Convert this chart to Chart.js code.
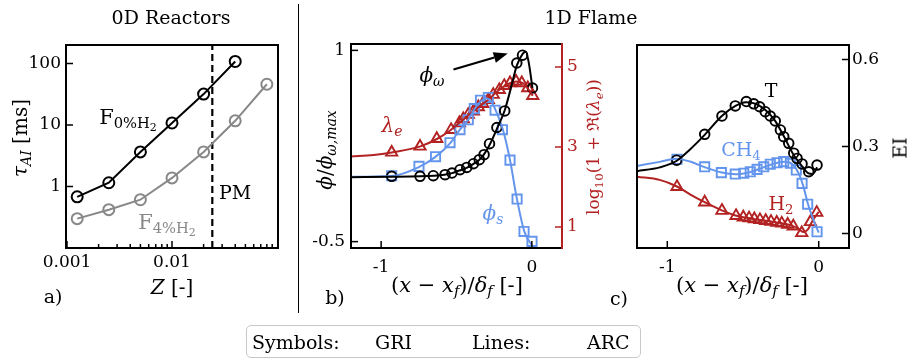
<!DOCTYPE html>
<html><head><meta charset="utf-8">
<script src="https://cdn.jsdelivr.net/npm/chart.js@4.4.1/dist/chart.umd.min.js"></script>
<style>
html,body{margin:0;padding:0;background:#fff;}
#wrap{position:relative;width:913px;height:360px;overflow:hidden;font-family:"DejaVu Serif",serif;}
canvas{position:absolute;left:0;top:0;}
.t{position:absolute;white-space:nowrap;line-height:1;font-size:19px;color:#000;transform:translate(-50%,-50%);}
.l{position:absolute;white-space:nowrap;line-height:1;font-size:19px;color:#000;transform:translate(0,-50%);}
.rot{transform:translate(-50%,-50%) rotate(-90deg);}
.s{font-size:0.7em;position:relative;top:0.3em;}
.s2{font-size:0.75em;position:relative;top:0.25em;}
.xl{font-size:21px;}
#sep{position:absolute;left:297.5px;top:4px;width:1.5px;height:309px;background:#000;}
#leg{position:absolute;left:246px;top:325px;width:393px;height:31px;border:1.5px solid #c8c8c8;border-radius:5px;}
</style></head><body>
<div id="wrap">
<canvas id="ca" width="913" height="360"></canvas>
<canvas id="cb" width="913" height="360"></canvas>
<canvas id="cc" width="913" height="360"></canvas>
<div id="sep"></div>

<div class="t" style="left:171px;top:17px;">0D Reactors</div>
<div class="t" style="left:591px;top:17px;">1D Flame</div>

<div class="t rot" style="left:20px;top:138px;font-size:20px;"><i>τ</i><span class="s"><i>AI</i></span> [ms]</div>
<div class="t" style="left:172px;top:287px;font-size:20px;"><i>Z</i> [-]</div>
<div class="t" style="left:53px;top:296px;">a)</div>
<div class="t" style="left:128px;top:117px;font-size:21px;">F<span class="s">0%H<span class="s2">2</span></span></div>
<div class="t" style="left:235px;top:192px;">PM</div>
<div class="t" style="left:167px;top:222px;color:#888;font-size:21px;">F<span class="s">4%H<span class="s2">2</span></span></div>

<div class="t rot" style="left:325px;top:150px;font-size:20px;"><i>ϕ</i>/<i>ϕ</i><span class="s"><i>ω,max</i></span></div>
<div class="t xl" style="left:457px;top:285px;">(<i>x</i> − <i>x</i><span class="s"><i>f</i></span>)/<i>δ</i><span class="s"><i>f</i></span> [-]</div>
<div class="t" style="left:335px;top:297px;">b)</div>
<div class="t rot" style="left:593px;top:147px;color:#B22222;font-size:17px;">log<span class="s">10</span>(1 + ℜ(<i>λ</i><span class="s"><i>e</i></span>))</div>
<div class="t" style="left:432px;top:75px;font-size:20px;"><i>ϕ</i><span class="s"><i>ω</i></span></div>
<div class="t" style="left:392px;top:125px;color:#B22222;font-size:20px;"><i>λ</i><span class="s"><i>e</i></span></div>
<div class="t" style="left:493px;top:213px;color:#6495ED;font-size:20px;"><i>ϕ</i><span class="s"><i>s</i></span></div>

<div class="t xl" style="left:742px;top:285px;">(<i>x</i> − <i>x</i><span class="s"><i>f</i></span>)/<i>δ</i><span class="s"><i>f</i></span> [-]</div>
<div class="t" style="left:619px;top:298px;">c)</div>
<div class="t rot" style="left:900px;top:148px;">EI</div>
<div class="t" style="left:771px;top:90px;">T</div>
<div class="t" style="left:741px;top:149px;color:#6495ED;">CH<span class="s">4</span></div>
<div class="t" style="left:781px;top:203px;color:#B22222;">H<span class="s">2</span></div>

<div id="leg"></div>
<div class="l" style="left:252px;top:342px;">Symbols:</div>
<div class="l" style="left:375px;top:342px;">GRI</div>
<div class="l" style="left:472px;top:342px;">Lines:</div>
<div class="l" style="left:587px;top:342px;">ARC</div>
</div>

<script>
// ---------- Panel a data ----------
const aZ0   = [0.00125, 0.0025, 0.005, 0.01, 0.02, 0.04];
const aTau0 = [0.68, 1.15, 3.65, 10.8, 31.8, 108];
const aZ4   = [0.00125, 0.0025, 0.005, 0.01, 0.02, 0.04, 0.08];
const aTau4 = [0.30, 0.42, 0.61, 1.38, 3.65, 11.7, 46];
const aZpm  = 0.0242;
const aXTicks = [0.001, 0.01];
const aXMinor = [0.002,0.003,0.004,0.005,0.006,0.007,0.008,0.009,0.02,0.03,0.04,0.05,0.06,0.07,0.08,0.09];
const aYTicks = [1, 10, 100];

// ---------- Panel b data (GRI symbols) ----------
const bWx = [-0.930,-0.742,-0.654,-0.576,-0.530,-0.477,-0.432,-0.388,-0.349,-0.317,-0.281,-0.232,-0.180,-0.100,-0.062,0.004];
const bWy = [0.012,0.012,0.017,0.025,0.038,0.064,0.082,0.111,0.143,0.182,0.268,0.395,0.525,0.901,0.962,0.705];
const bSx = [-0.930,-0.749,-0.639,-0.543,-0.477,-0.422,-0.382,-0.341,-0.289,-0.244,-0.195,-0.145,-0.098,-0.052,0.001];
const bSy = [0.017,0.090,0.166,0.276,0.378,0.456,0.543,0.609,0.631,0.531,0.378,0.139,-0.166,-0.420,-0.498];
const bLx = [-0.930,-0.742,-0.631,-0.536,-0.481,-0.455,-0.422,-0.388,-0.355,-0.326,-0.289,-0.256,-0.216,-0.183,-0.145,-0.105,-0.067,-0.027,0.006];
const bLy = [2.865,3.015,3.208,3.43,3.60,3.70,3.81,3.89,4.00,4.08,4.18,4.31,4.43,4.53,4.60,4.64,4.60,4.475,4.28];
// ---------- Panel b data (ARC lines) ----------
const bWlx = [-1.2,-0.93,-0.74,-0.65,-0.58,-0.53,-0.48,-0.43,-0.39,-0.35,-0.32,-0.28,-0.23,-0.18,-0.14,-0.10,-0.06,-0.04,-0.02,0.004];
const bWly = [0.005,0.008,0.012,0.017,0.025,0.037,0.058,0.08,0.108,0.14,0.18,0.26,0.39,0.53,0.70,0.88,0.975,0.99,0.90,0.705];
const bSlx = [-1.2,-0.93,-0.75,-0.64,-0.54,-0.48,-0.42,-0.38,-0.34,-0.30,-0.27,-0.24,-0.19,-0.145,-0.10,-0.05,0.0];
const bSly = [0.008,0.015,0.085,0.165,0.275,0.375,0.46,0.54,0.60,0.625,0.60,0.53,0.37,0.14,-0.16,-0.42,-0.53];
const bLlx = [-1.2,-1.05,-0.93,-0.74,-0.63,-0.54,-0.45,-0.36,-0.29,-0.22,-0.15,-0.10,-0.06,-0.03,0.006];
const bLly = [2.765,2.80,2.865,3.015,3.20,3.42,3.70,3.98,4.18,4.42,4.59,4.64,4.60,4.48,4.28];
const bXTicks = [-1, 0];
const bYTicks = [-0.5, 1];
const bY2Ticks = [1, 3, 5];
const bArrowFrom = [-0.52, 0.85];
const bArrowTo = [-0.16, 0.975];

// ---------- Panel c data (GRI symbols) ----------
const cTx = [-0.938,-0.753,-0.639,-0.551,-0.478,-0.429,-0.390,-0.353,-0.320,-0.287,-0.253,-0.231,-0.198,-0.165,-0.143,-0.110,-0.066,-0.011];
const cTy = [0.253,0.342,0.405,0.440,0.455,0.447,0.437,0.420,0.405,0.388,0.357,0.334,0.311,0.277,0.259,0.240,0.213,0.236];
const cMx = [-0.936,-0.753,-0.643,-0.551,-0.495,-0.452,-0.407,-0.363,-0.320,-0.275,-0.231,-0.187,-0.148,-0.110,-0.073,-0.011];
const cMy = [0.256,0.230,0.210,0.205,0.208,0.213,0.221,0.230,0.239,0.244,0.248,0.242,0.219,0.173,0.101,0.006];
const cHx = [-0.936,-0.753,-0.639,-0.546,-0.498,-0.460,-0.425,-0.388,-0.350,-0.315,-0.277,-0.244,-0.205,-0.168,-0.112,-0.055,-0.013];
const cHy = [0.161,0.108,0.079,0.061,0.056,0.053,0.050,0.047,0.044,0.041,0.038,0.035,0.031,0.025,0.002,0.040,0.072];
// ---------- Panel c data (ARC lines) ----------
const cTlx = [-1.2,-1.05,-0.94,-0.85,-0.75,-0.64,-0.55,-0.48,-0.42,-0.35,-0.29,-0.23,-0.17,-0.11,-0.07,-0.04,-0.01];
const cTly = [0.215,0.228,0.25,0.29,0.342,0.405,0.44,0.453,0.448,0.425,0.39,0.335,0.275,0.232,0.208,0.205,0.228];
const cMlx = [-1.2,-1.05,-0.94,-0.85,-0.75,-0.64,-0.55,-0.45,-0.36,-0.28,-0.22,-0.17,-0.13,-0.10,-0.07,-0.03,0.0];
const cMly = [0.233,0.247,0.258,0.248,0.228,0.21,0.204,0.212,0.229,0.243,0.247,0.237,0.205,0.16,0.10,0.04,0.003];
const cHlx = [-1.2,-1.05,-0.94,-0.85,-0.75,-0.64,-0.55,-0.45,-0.35,-0.25,-0.18,-0.13,-0.10,-0.07,-0.04,0.0];
const cHly = [0.196,0.185,0.163,0.135,0.107,0.08,0.062,0.052,0.044,0.036,0.028,0.015,0.005,0.015,0.045,0.075];
const cXTicks = [-1, 0];
const cYTicks = [0, 0.3, 0.6];

// ---------- helpers ----------
const BLACK = '#000', GRAY = '#888', BLUE = '#6495ED', RED = '#B22222';
Chart.defaults.font.family = "'DejaVu Serif', serif";
Chart.defaults.font.size = 17;
Chart.defaults.color = '#000';
Chart.defaults.animation = false;

const pts = (xs, ys) => xs.map((x, i) => ({x: x, y: ys[i]}));

function axis(o) {
  const isY = (o.pos === 'left' || o.pos === 'right');
  return {
    type: o.type || 'linear', position: o.pos, min: o.min, max: o.max,
    grid: {display: false, drawTicks: false},
    border: {display: false},
    ticks: {color: o.color || '#000', padding: o.pad, font: {size: 17}, autoSkip: false,
            maxRotation: 0, minRotation: 0, callback: v => String(v)},
    afterBuildTicks: s => { s.ticks = o.ticks.map(v => ({value: v})); },
    afterFit: s => { if (isY) s.width = o.size; else s.height = o.size; }
  };
}

function lineSet(xs, ys, color, yId) {
  return {data: pts(xs, ys), yAxisID: yId || 'y', borderColor: color, borderWidth: 2,
          pointRadius: 0, cubicInterpolationMode: 'monotone', fill: false};
}
function markSet(xs, ys, color, style, r, yId) {
  return {data: pts(xs, ys), yAxisID: yId || 'y', showLine: false, borderColor: color,
          pointStyle: style, pointRadius: r, pointBorderWidth: 1.9,
          pointBorderColor: color, pointBackgroundColor: 'rgba(0,0,0,0)', clip: false};
}

const framePlugin = {
  id: 'frame',
  afterDatasetsDraw(chart, args, opts) {
    const ctx = chart.ctx, a = chart.chartArea;
    ctx.save();
    (opts.ticks || []).forEach(t => {
      const s = chart.scales[t.scale];
      ctx.strokeStyle = t.color || '#000';
      ctx.lineWidth = 1.5;
      const draw = (v, len) => {
        const p = s.getPixelForValue(v);
        ctx.beginPath();
        if (t.edge === 'bottom') { ctx.moveTo(p, a.bottom); ctx.lineTo(p, a.bottom - len); }
        else if (t.edge === 'left') { ctx.moveTo(a.left, p); ctx.lineTo(a.left + len, p); }
        else { ctx.moveTo(a.right, p); ctx.lineTo(a.right - len, p); }
        ctx.stroke();
      };
      (t.major || []).forEach(v => draw(v, 7));
      (t.minor || []).forEach(v => draw(v, 4));
    });
    const c = opts.colors;
    const seg = (x1, y1, x2, y2, col) => {
      ctx.strokeStyle = col; ctx.lineWidth = 2; ctx.lineCap = 'square';
      ctx.beginPath(); ctx.moveTo(x1, y1); ctx.lineTo(x2, y2); ctx.stroke();
    };
    seg(a.left, a.top, a.right, a.top, c.top);
    seg(a.left, a.bottom, a.right, a.bottom, c.bottom);
    seg(a.left, a.top, a.left, a.bottom, c.left);
    seg(a.right, a.top, a.right, a.bottom, c.right);
    if (opts.arrow) {
      const xs = chart.scales.x, ys = chart.scales.y;
      const x1 = xs.getPixelForValue(opts.arrow.from[0]), y1 = ys.getPixelForValue(opts.arrow.from[1]);
      const x2 = xs.getPixelForValue(opts.arrow.to[0]), y2 = ys.getPixelForValue(opts.arrow.to[1]);
      const ang = Math.atan2(y2 - y1, x2 - x1), hl = 14, hw = 5.5;
      const bx = x2 - hl * Math.cos(ang), by = y2 - hl * Math.sin(ang);
      ctx.strokeStyle = '#000'; ctx.fillStyle = '#000'; ctx.lineWidth = 2.2; ctx.lineCap = 'butt';
      ctx.beginPath(); ctx.moveTo(x1, y1); ctx.lineTo(bx, by); ctx.stroke();
      ctx.beginPath(); ctx.moveTo(x2, y2);
      ctx.lineTo(bx + hw * Math.sin(ang), by - hw * Math.cos(ang));
      ctx.lineTo(bx - hw * Math.sin(ang), by + hw * Math.cos(ang));
      ctx.closePath(); ctx.fill();
    }
    ctx.restore();
  }
};

const baseOpts = (padding, scales, frame) => ({
  responsive: false, animation: false, events: [],
  layout: {padding: padding},
  plugins: {legend: {display: false}, tooltip: {enabled: false}, frame: frame},
  scales: scales
});

// ---------- Panel a ----------
new Chart(document.getElementById('ca'), {
  type: 'line',
  data: {datasets: [
    {data: pts(aZ0, aTau0), borderColor: BLACK, borderWidth: 2, tension: 0, pointStyle: 'circle',
     pointRadius: 5.5, pointBorderWidth: 2, pointBorderColor: BLACK, pointBackgroundColor: 'rgba(0,0,0,0)', clip: false},
    {data: pts(aZ4, aTau4), borderColor: GRAY, borderWidth: 2, tension: 0, pointStyle: 'circle',
     pointRadius: 5.5, pointBorderWidth: 2, pointBorderColor: GRAY, pointBackgroundColor: 'rgba(0,0,0,0)', clip: false},
    {data: [{x: aZpm, y: 0.1}, {x: aZpm, y: 200}], borderColor: BLACK, borderWidth: 2.2,
     borderDash: [7, 4], pointRadius: 0}
  ]},
  options: baseOpts({left: 0, top: 45, right: 635, bottom: 72}, {
    x: axis({type: 'logarithmic', pos: 'bottom', min: 0.000978, max: 0.1022, ticks: aXTicks, size: 40, pad: 4}),
    y: axis({type: 'logarithmic', pos: 'left', min: 0.1, max: 200, ticks: aYTicks, size: 66, pad: 5})
  }, {
    colors: {top: BLACK, bottom: BLACK, left: BLACK, right: BLACK},
    ticks: [{scale: 'x', edge: 'bottom', major: aXTicks, minor: aXMinor},
            {scale: 'y', edge: 'left', major: aYTicks}]
  }),
  plugins: [framePlugin]
});

// ---------- Panel b ----------
new Chart(document.getElementById('cb'), {
  type: 'line',
  data: {datasets: [
    lineSet(bWlx, bWly, BLACK, 'y'),
    lineSet(bSlx, bSly, BLUE, 'y'),
    lineSet(bLlx, bLly, RED, 'y2'),
    markSet(bWx, bWy, BLACK, 'circle', 4.8, 'y'),
    markSet(bSx, bSy, BLUE, 'rect', 6.5, 'y'),
    markSet(bLx, bLy, RED, 'triangle', 6.5, 'y2')
  ]},
  options: baseOpts({left: 0, top: 44, right: 311, bottom: 72}, {
    x: axis({pos: 'bottom', min: -1.2, max: 0.2, ticks: bXTicks, size: 40, pad: 9}),
    y: axis({pos: 'left', min: -0.55, max: 1.05, ticks: bYTicks, size: 351, pad: 6}),
    y2: axis({pos: 'right', min: 0.475, max: 5.575, ticks: bY2Ticks, size: 40, pad: 5, color: RED})
  }, {
    colors: {top: BLACK, bottom: BLACK, left: BLACK, right: RED},
    ticks: [{scale: 'x', edge: 'bottom', major: bXTicks},
            {scale: 'y', edge: 'left', major: bYTicks},
            {scale: 'y2', edge: 'right', major: bY2Ticks, color: RED}],
    arrow: {from: bArrowFrom, to: bArrowTo}
  }),
  plugins: [framePlugin]
});

// ---------- Panel c ----------
new Chart(document.getElementById('cc'), {
  type: 'line',
  data: {datasets: [
    lineSet(cTlx, cTly, BLACK),
    lineSet(cMlx, cMly, BLUE),
    lineSet(cHlx, cHly, RED),
    markSet(cTx, cTy, BLACK, 'circle', 4.8),
    markSet(cMx, cMy, BLUE, 'rect', 6.5),
    markSet(cHx, cHy, RED, 'triangle', 6.5)
  ]},
  options: baseOpts({left: 637, top: 45, right: 24, bottom: 72}, {
    x: axis({pos: 'bottom', min: -1.2, max: 0.2, ticks: cXTicks, size: 40, pad: 9}),
    y: axis({pos: 'right', min: -0.05, max: 0.65, ticks: cYTicks, size: 40, pad: 3})
  }, {
    colors: {top: BLACK, bottom: BLACK, left: BLACK, right: BLACK},
    ticks: [{scale: 'x', edge: 'bottom', major: cXTicks},
            {scale: 'y', edge: 'right', major: cYTicks}]
  }),
  plugins: [framePlugin]
});
</script>
</body></html>
